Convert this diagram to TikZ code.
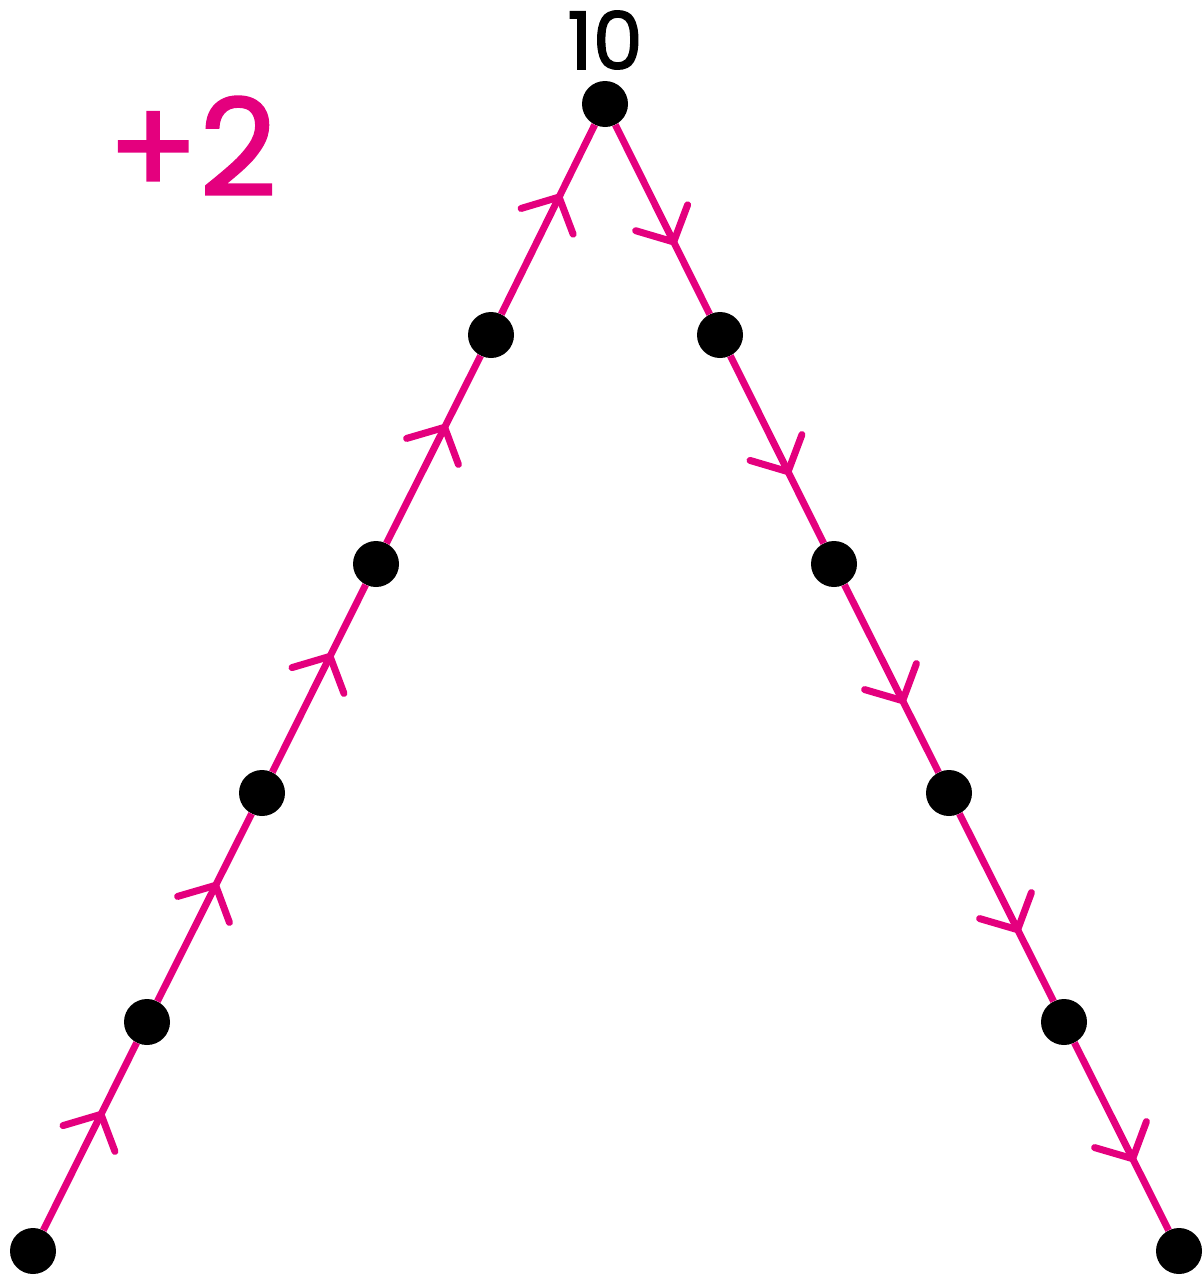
\documentclass[tikz,border=0pt]{standalone}
\usepackage{fontspec}
\setmainfont{Poppins}
\newfontfamily\labfont[FakeBold=1.5]{Poppins}
\usetikzlibrary{arrows.meta,decorations.markings}
\definecolor{mag}{RGB}{228,0,126}
\tikzset{
  dot/.style={circle,fill=black,inner sep=0pt,minimum size=46pt},
  edge/.style={draw=mag,line width=7pt,postaction={decorate},
    decoration={markings,mark=at position 0.635 with {\arrow[mag]{Straight Barb[length=27pt,width=58pt,line width=7pt,round]}}}}
}
\begin{document}
\begin{tikzpicture}[x=1pt,y=-1pt]
\useasboundingbox (0,0) rectangle (1203,1277);
\node[dot] (t) at (605,104) {};
\node[dot] (l1) at (491,335) {};
\node[dot] (l2) at (376,564) {};
\node[dot] (l3) at (262,793) {};
\node[dot] (l4) at (147,1022) {};
\node[dot] (l5) at (33,1251) {};
\node[dot] (r1) at (720,335) {};
\node[dot] (r2) at (834,564) {};
\node[dot] (r3) at (949,793) {};
\node[dot] (r4) at (1064,1022) {};
\node[dot] (r5) at (1179,1251) {};
\path[edge] (l5) -- (l4);
\path[edge] (l4) -- (l3);
\path[edge] (l3) -- (l2);
\path[edge] (l2) -- (l1);
\path[edge] (l1) -- (t);
\path[edge] (t) -- (r1);
\path[edge] (r1) -- (r2);
\path[edge] (r2) -- (r3);
\path[edge] (r3) -- (r4);
\path[edge] (r4) -- (r5);
\node (ten) at (605,40) {\labfont\fontsize{80}{80}\selectfont 10};
\node[text=mag] (plus) at (192,146) {\labfont\fontsize{135}{135}\selectfont +2};
\end{tikzpicture}
\end{document}
